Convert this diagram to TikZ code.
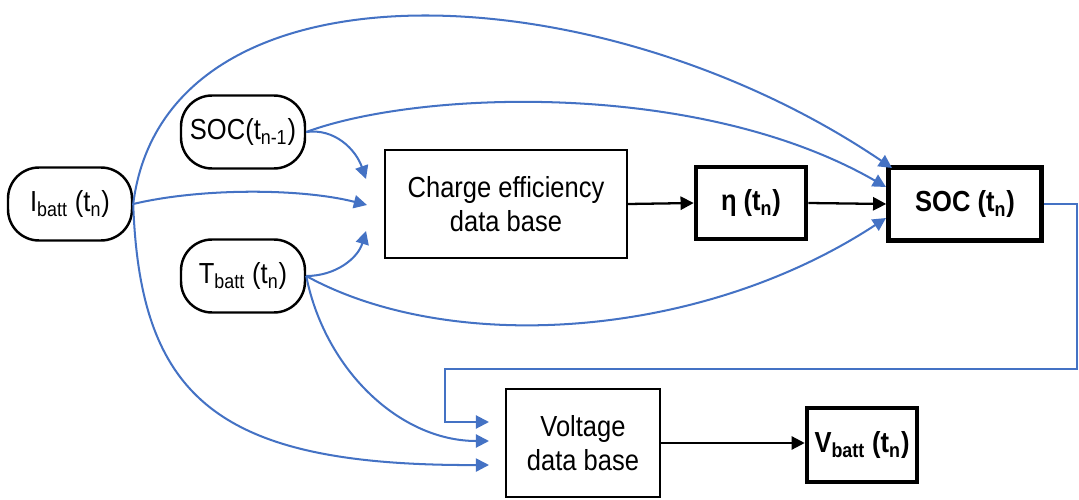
\documentclass[tikz,border=0pt]{standalone}
\usepackage{fontspec}
\setmainfont{Liberation Sans}[FakeStretch=0.88]
\usetikzlibrary{arrows.meta}
\definecolor{linkblue}{RGB}{68,114,196}
\tikzset{
  txt/.style={font=\fontsize{16.5}{19.5}\selectfont},
  pill/.style={txt, draw, line width=1.4pt, rounded corners=0.62cm,
    minimum width=2.48cm, minimum height=1.46cm, inner sep=0pt, align=center},
  dbbox/.style={txt, draw, line width=1.3pt, inner sep=0pt, align=center},
  outbox/.style={draw, line width=2.6pt, inner sep=0pt,
    font=\bfseries\fontsize{16.5}{19.5}\selectfont},
  feed/.style={draw=linkblue, line width=1.15pt, -{Triangle[length=7.5pt,width=7.5pt]}},
  flow/.style={draw=black, line width=1.3pt, -{Triangle[length=7.5pt,width=7.5pt]}},
}
\begin{document}
\begin{tikzpicture}[x=0.02cm,y=-0.02cm]
\useasboundingbox (0,0) rectangle (1079,500);

% inputs
\node[pill] (ibatt) at (70,204) {I\textsubscript{batt} (t\textsubscript{n})};
\node[pill] (socp)  at (243,132) {SOC(t\textsubscript{n-1})};
\node[pill] (tbatt) at (243,276) {T\textsubscript{batt} (t\textsubscript{n})};

% look-up tables
\node[dbbox, minimum width=4.84cm, minimum height=2.16cm] (charge) at (506,204)
  {Charge efficiency\\data base};
\node[dbbox, minimum width=3.08cm, minimum height=2.16cm] (volt) at (583,443)
  {Voltage\\data base};

% outputs
\node[outbox, minimum width=2.2cm, minimum height=1.44cm] (eta) at (751,203) {η (t\textsubscript{n})};
\node[outbox, minimum width=3.06cm, minimum height=1.46cm] (soc) at (965,204) {SOC (t\textsubscript{n})};
\node[outbox, minimum width=2.2cm, minimum height=1.48cm] (vbatt) at (862,445) {V\textsubscript{batt} (t\textsubscript{n})};

% arrow tips of the blue inputs
\coordinate (cinS) at (366,179);
\coordinate (cinI) at (367,205);
\coordinate (cinT) at (366,231);
\coordinate (sinI) at (892,168);
\coordinate (sinS) at (886,187);
\coordinate (sinT) at (886,218);
\coordinate (vinS) at (489,422);
\coordinate (vinT) at (489,441);
\coordinate (vinI) at (489,465);
\coordinate (fbA) at (1077,204);
\coordinate (fbB) at (1077,369);
\coordinate (fbC) at (445,369);
\coordinate (fbD) at (445,422);

% main chain
\draw[flow] (charge.east) -- (eta.west);
\draw[flow] (eta.east) -- (soc.west);
\draw[flow] (volt.east) -- (vbatt.west |- volt.east);

% inputs to the charge efficiency table
\draw[feed] (socp.east) .. controls (335,128) and (356,150) .. (cinS);
\draw[feed] (ibatt.east) .. controls (200,188) and (300,188) .. (cinI);
\draw[feed] (tbatt.east) .. controls (336,276) and (358,258) .. (cinT);

% inputs to the SOC update
\draw[feed] (ibatt.east) .. controls (165,-50) and (600,-30) .. (sinI);
\draw[feed] (socp.east) .. controls (420,90) and (700,80) .. (sinS);
\draw[feed] (tbatt.east) .. controls (450,355) and (700,340) .. (sinT);

% inputs to the voltage table
\draw[feed] (tbatt.east) .. controls (325,370) and (400,441) .. (vinT);
\draw[feed] (ibatt.east) .. controls (140,400) and (220,466) .. (vinI);
\draw[feed] (soc.east) -- (fbA) -- (fbB) -- (fbC) -- (fbD) -- (vinS);

\end{tikzpicture}
\end{document}
